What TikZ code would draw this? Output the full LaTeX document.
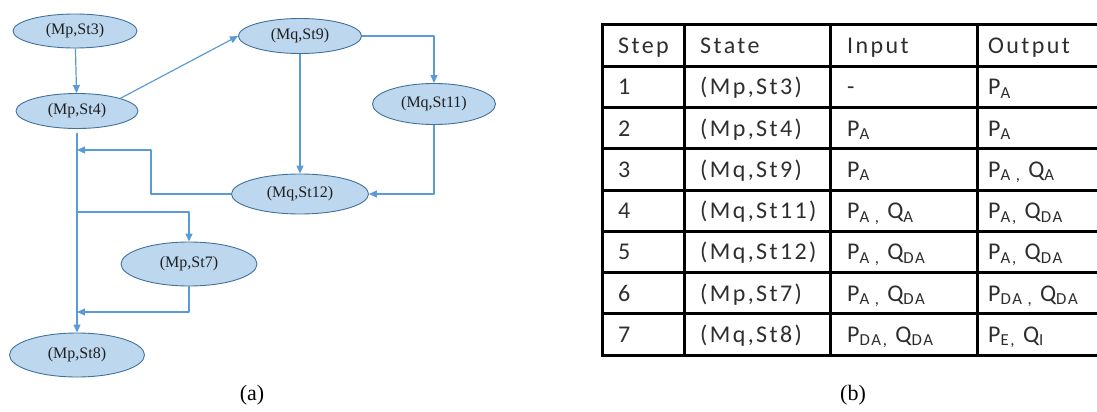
\documentclass[tikz,border=0pt]{standalone}
\usepackage{fontspec}
\setmainfont{Liberation Serif}
\newfontfamily\tabfont[LetterSpace=10]{Carlito}
\usetikzlibrary{arrows.meta,shapes.geometric}

\definecolor{freccia}{HTML}{5B9BD5}
\definecolor{riemp}{HTML}{BDD7EE}
\definecolor{bordo}{HTML}{41719C}

% pedice del testo in tabella
\newcommand{\pd}[1]{\textsubscript{#1}}

\begin{document}
\begin{tikzpicture}[x=1pt,y=-1pt,line join=round,
    stato/.style={ellipse,draw=bordo,fill=riemp,line width=0.9pt,inner sep=0pt,
      text=black!88,font=\fontsize{16}{19}\selectfont},
    flusso/.style={draw=freccia,line width=1.2pt,-{Triangle[length=8pt,width=7pt]}},
    tabella/.style={line width=3pt,line cap=rect},
    cella/.style={anchor=base west,inner sep=0pt,text=black!82,
      font=\tabfont\fontsize{24}{28}\selectfont},
    didascalia/.style={inner sep=0pt,font=\fontsize{22}{26}\selectfont}]

  \useasboundingbox (0,0) rectangle (1097,412);
  \clip (0,0) rectangle (1097,412);

  % ---- grafo degli stati (a) -----------------------------------------------
  \node[stato,minimum width=124pt,minimum height=34pt] (st3)  at ( 75, 31) {(Mp,St3)};
  \node[stato,minimum width=122pt,minimum height=35pt] (st4)  at ( 77,111) {(Mp,St4)};
  \node[stato,minimum width=123pt,minimum height=35pt] (st9)  at (300, 36) {(Mq,St9)};
  \node[stato,minimum width=123pt,minimum height=41pt] (st11) at (434,104) {(Mq,St11)};
  \node[stato,minimum width=137pt,minimum height=40pt] (st12) at (300,194) {(Mq,St12)};
  \node[stato,minimum width=136pt,minimum height=44pt] (st7)  at (189,264) {(Mp,St7)};
  \node[stato,minimum width=135pt,minimum height=44pt] (st8)  at ( 77,355) {(Mp,St8)};

  % punti d'innesto sulla linea verticale di sinistra
  \coordinate (n1) at (77,150);
  \coordinate (n2) at (77,212);
  \coordinate (n3) at (77,312);

  \draw[flusso] (st3) -- (st4);
  \draw[flusso] (st4.north east) -- (st9.west);
  \draw[flusso] (st9.east) -| (st11.north);
  \draw[flusso] (st9) -- (st12);
  \draw[flusso] (st11.south) |- (st12.east);
  \draw[flusso] (st12.west) -- ++(-80,0) |- (n1);
  \draw[flusso,shorten <=4pt] (st4.south) -- (st8.north);
  \draw[flusso] (n2) -| (st7.north);
  \draw[flusso] (st7.south) |- (n3);

  \node[didascalia] (capa) at (252,395) {(a)};

  % ---- tabella dei passi (b) -----------------------------------------------
  \foreach \k in {0,...,8}
    \draw[tabella] (602,{25+41.25*\k}) -- (1110,{25+41.25*\k});
  \foreach \x in {602,684,830,977}
    \draw[tabella] (\x,25) -- (\x,355);

  \node[cella] (h1) at (618,54) {Step};
  \node[cella] (h2) at (700,54) {State};
  \node[cella] (h3) at (847,54) {Input};
  \node[cella] (h4) at (988,54) {Output};

  \foreach \n/\stat/\ing/\usc [count=\r] in {
      1/{(Mp,St3)}/{-}/{P\pd{A}},
      2/{(Mp,St4)}/{P\pd{A}}/{P\pd{A}},
      3/{(Mq,St9)}/{P\pd{A}}/{P\pd{A ,} Q\pd{A}},
      4/{(Mq,St11)}/{P\pd{A ,} Q\pd{A}}/{P\pd{A,} Q\pd{DA}},
      5/{(Mq,St12)}/{P\pd{A ,} Q\pd{DA}}/{P\pd{A,} Q\pd{DA}},
      6/{(Mp,St7)}/{P\pd{A ,} Q\pd{DA}}/{P\pd{DA ,} Q\pd{DA}},
      7/{(Mq,St8)}/{P\pd{DA,} Q\pd{DA}}/{P\pd{E,} Q\pd{I}}} {
    \node[cella] (p\r) at (618,{53.5+41.25*\r}) {\n};
    \node[cella] (s\r) at (700,{53.5+41.25*\r}) {\stat};
    \node[cella] (i\r) at (847,{53.5+41.25*\r}) {\ing};
    \node[cella] (o\r) at (988,{53.5+41.25*\r}) {\usc};
  }

  \node[didascalia] (capb) at (853,395) {(b)};

\end{tikzpicture}
\end{document}
